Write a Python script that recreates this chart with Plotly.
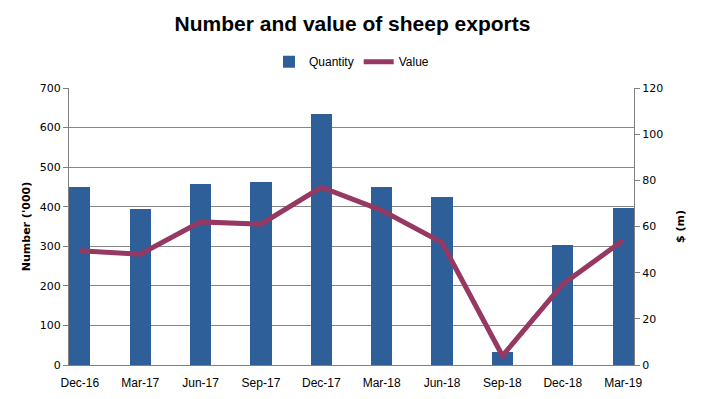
import plotly.graph_objects as go

categories = ["Dec-16", "Mar-17", "Jun-17", "Sep-17", "Dec-17", "Mar-18", "Jun-18", "Sep-18", "Dec-18", "Mar-19"]
quantity = [450, 395, 458, 463, 635, 450, 425, 32, 303, 398]
value = [49.5, 48, 62, 61, 77, 67, 53, 4, 35, 54]

x = list(range(len(categories)))

fig = go.Figure()
fig.add_trace(go.Bar(x=x, y=quantity, name="Quantity", marker=dict(color="#2E5F98", line=dict(width=0)),
                     width=0.35, yaxis="y"))
fig.add_trace(go.Scatter(x=x, y=value, name="Value", mode="lines",
                         line=dict(color="#953962", width=5), yaxis="y2"))

tickfont = dict(family="DejaVu Sans, Verdana, sans-serif", size=11, color="#000")
fig.update_layout(
    width=705, height=399,
    margin=dict(l=69, r=71, t=88, b=34),
    paper_bgcolor="white", plot_bgcolor="white",
    title=dict(text="<b>Number and value of sheep exports</b>", x=0.5, xanchor="center", y=0.94, yanchor="middle",
               font=dict(family="Liberation Sans, Arial, sans-serif", size=21, color="#000")),
    legend=dict(orientation="h", x=0.5, xanchor="center", y=1.095, yanchor="middle",
                font=dict(family="Liberation Sans, sans-serif", size=12, color="#000"),
                itemwidth=30, traceorder="normal"),
    showlegend=True,
    bargap=0,
    xaxis=dict(range=[-0.18, 9.18], tickvals=x, ticktext=categories, showgrid=False, zeroline=False,
               showline=True, linecolor="#808080", ticks="outside", ticklen=7, tickcolor="rgba(0,0,0,0)",
               automargin=False,
               tickfont=dict(family="Liberation Sans, sans-serif", size=12, color="#000")),
    yaxis=dict(range=[0, 700], dtick=100, showgrid=True, gridcolor="#878787", gridwidth=1,
               showline=True, linecolor="#808080", ticks="outside", ticklen=5, tickcolor="#808080",
               zeroline=False, tickfont=tickfont, automargin=False,
               title=dict(text="<b>Number ('000)</b>", font=dict(family="DejaVu Sans, sans-serif", size=11, color="#000"), standoff=6)),
    yaxis2=dict(range=[0, 120], dtick=20, overlaying="y", side="right", showgrid=False,
                showline=True, linecolor="#808080", ticks="outside", ticklen=5, tickcolor="#808080",
                zeroline=False, tickfont=tickfont, automargin=False,
                title=dict(text="<b>$ (m)</b>", font=dict(family="DejaVu Sans, sans-serif", size=11, color="#000"), standoff=14)),
)
fig.write_html("out.html", config={"displayModeBar": False},
               post_script="document.body.style.margin='0';document.body.style.padding='0';")
